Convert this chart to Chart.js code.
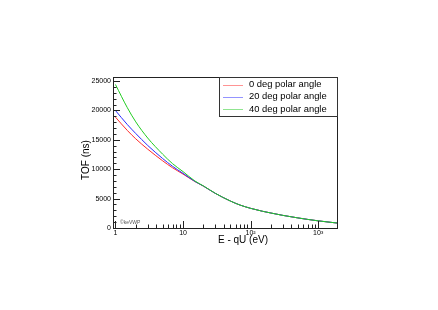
<!DOCTYPE html>
<html>
<head>
<meta charset="utf-8">
<script src="https://cdn.jsdelivr.net/npm/chart.js@4.4.0/dist/chart.umd.min.js"></script>
<style>
  html, body { margin: 0; padding: 0; background: #fff; }
  canvas { display: block; }
</style>
</head>
<body>
<canvas id="c" width="438" height="310"></canvas>
<script>
// energies (eV) and time of flight (ns)
const energy = [1, 1.5, 2, 3, 5, 7, 10, 15, 20, 30, 50, 70, 100, 150, 200, 300, 500, 700, 1000, 1500, 1900];
const tof0  = [18870, 16600, 15170, 13420, 11430, 10250, 9180, 7900, 7130, 5900, 4600, 3900, 3350, 2850, 2550, 2150, 1720, 1460, 1220, 980, 850];
const tof20 = [20000, 17600, 16080, 14060, 11820, 10500, 9300, 7930, 7140, 5900, 4600, 3900, 3350, 2850, 2550, 2150, 1720, 1460, 1220, 980, 850];
const tof40 = [24430, 20470, 18060, 15320, 12560, 10950, 9600, 8000, 7170, 5910, 4600, 3900, 3350, 2850, 2550, 2150, 1720, 1460, 1220, 980, 850];
const seriesLabels = ['0 deg polar angle', '20 deg polar angle', '40 deg polar angle'];
const seriesColors = ['#ff2a2a', '#2a2aff', '#22cc22'];
const yTickValues = [0, 5000, 10000, 15000, 20000, 25000];
const xTickValues = [1, 10, 100, 1000];
const xTickLabels = ['1', '10', '10\u00b2', '10\u00b3'];

const FONT = 'Liberation Sans, Arial, Helvetica, sans-serif';

const rootStyle = {
  id: 'rootStyle',
  afterDraw(chart) {
    const { ctx, chartArea: a, scales: { x, y } } = chart;
    ctx.save();
    ctx.strokeStyle = '#222';
    ctx.lineWidth = 1;
    ctx.strokeRect(a.left + 0.5, a.top + 0.5, a.right - a.left, a.bottom - a.top);

    // inward ticks, ROOT style
    ctx.beginPath();
    for (let v = 0; v <= y.max; v += 1000) {
      const py = Math.round(y.getPixelForValue(v)) + 0.5;
      const len = v % 5000 === 0 ? 7 : 3.5;
      ctx.moveTo(a.left, py); ctx.lineTo(a.left + len, py);
    }
    for (let d = 1; d <= 1000; d *= 10) {
      for (let m = 1; m < 10; m++) {
        const v = d * m;
        if (v < x.min || v > x.max) continue;
        const px = Math.round(x.getPixelForValue(v)) + 0.5;
        const len = m === 1 ? 7 : 3.5;
        ctx.moveTo(px, a.bottom); ctx.lineTo(px, a.bottom - len);
      }
    }
    ctx.stroke();

    // axis titles
    ctx.fillStyle = '#000';
    ctx.font = '10px ' + FONT;
    ctx.textAlign = 'center';
    ctx.textBaseline = 'middle';
    ctx.fillText('E - qU (eV)', 243, 240);
    ctx.save();
    ctx.translate(86, 160);
    ctx.rotate(-Math.PI / 2);
    ctx.fillText('TOF (ns)', 0, 0);
    ctx.restore();

    // watermark
    ctx.font = '5px ' + FONT;
    ctx.fillStyle = '#555';
    ctx.textAlign = 'left';
    ctx.fillText('\u00a9keVWP', a.left + 7, a.bottom - 5);

    // legend box
    const lw = 118, lh = 39;
    const lx = a.right - lw, ly = a.top;
    ctx.fillStyle = '#fff';
    ctx.fillRect(lx, ly, lw, lh);
    ctx.strokeStyle = '#333';
    ctx.strokeRect(lx + 0.5, ly + 0.5, lw, lh);
    ctx.font = '9.4px ' + FONT;
    ctx.textAlign = 'left';
    chart.data.datasets.forEach((ds, i) => {
      const cy = ly + 7.5 + i * 12.3;
      ctx.strokeStyle = ds.borderColor;
      ctx.globalAlpha = 0.5;
      ctx.beginPath();
      ctx.moveTo(lx + 4, Math.round(cy) + 0.5);
      ctx.lineTo(lx + 24, Math.round(cy) + 0.5);
      ctx.stroke();
      ctx.globalAlpha = 1;
      ctx.fillStyle = '#000';
      ctx.fillText(ds.label, lx + 30, cy);
    });
    ctx.restore();
  }
};

const toPoints = vals => energy.map((e, i) => ({ x: e, y: vals[i] }));

new Chart(document.getElementById('c'), {
  type: 'line',
  data: {
    datasets: [tof0, tof20, tof40].map((vals, i) => ({
      label: seriesLabels[i],
      data: toPoints(vals),
      borderColor: seriesColors[i],
      borderWidth: 1,
      pointRadius: 0,
      fill: false,
      order: 2 - i,
      cubicInterpolationMode: 'monotone'
    }))
  },
  options: {
    responsive: false,
    animation: false,
    layout: { padding: { left: 80, right: 101, top: 77, bottom: 68 } },
    plugins: { legend: { display: false }, tooltip: { enabled: false } },
    scales: {
      x: {
        type: 'logarithmic',
        min: 0.92,
        max: 1900,
        afterFit(s) { s.height = 14; },
        afterBuildTicks(s) { s.ticks = xTickValues.map(v => ({ value: v })); },
        grid: { display: false, drawTicks: false },
        border: { display: false },
        ticks: {
          autoSkip: false,
          maxRotation: 0,
          padding: 1,
          color: '#000',
          font: { family: FONT, size: 7 },
          callback: (v, i) => xTickLabels[i]
        }
      },
      y: {
        min: 0,
        max: 25700,
        afterFit(s) { s.width = 33; },
        afterBuildTicks(s) { s.ticks = yTickValues.map(v => ({ value: v })); },
        grid: { display: false, drawTicks: false },
        border: { display: false },
        ticks: {
          autoSkip: false,
          padding: 2,
          color: '#000',
          font: { family: FONT, size: 7 },
          callback: v => String(v)
        }
      }
    }
  },
  plugins: [rootStyle]
});
</script>
</body>
</html>
